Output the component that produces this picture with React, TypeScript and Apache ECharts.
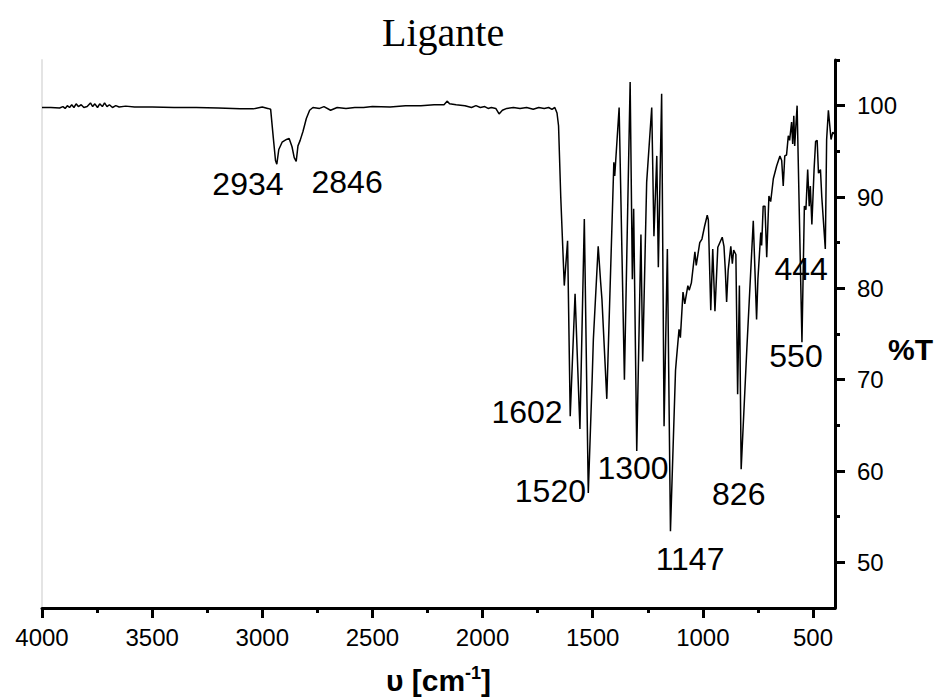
import React, { useEffect, useRef } from "react";
import * as echarts from "echarts";

// IR spectrum (wavenumber in cm-1, transmittance in %T)
const wavenumbers = [
  4000, 3960, 3920, 3905, 3895, 3885, 3875, 3865, 3855, 3845, 3835, 3822, 3810, 3795, 3780, 3770, 3760, 3748,
  3738, 3726, 3716, 3705, 3694, 3680, 3665, 3650, 3620, 3580, 3500, 3400, 3300, 3200, 3100, 3040, 3000, 2975,
  2962, 2950, 2940, 2934, 2925, 2910, 2890, 2878, 2865, 2855, 2846, 2838, 2828, 2815, 2800, 2785, 2770, 2740,
  2720, 2690, 2660, 2620, 2580, 2540, 2500, 2420, 2350, 2280, 2220, 2175, 2160, 2150, 2120, 2080, 2050, 2030,
  2010, 1990, 1975, 1960, 1940, 1925, 1910, 1890, 1860, 1830, 1800, 1770, 1745, 1720, 1700, 1685, 1672, 1662,
  1655, 1645, 1629, 1614, 1602, 1580, 1558, 1538, 1520, 1502, 1497, 1475, 1464, 1458, 1436, 1404, 1400, 1380,
  1356, 1330, 1320, 1314, 1300, 1281, 1273, 1255, 1232, 1222, 1209, 1202, 1187, 1176, 1161, 1147, 1124, 1120,
  1108, 1102, 1090, 1082, 1068, 1062, 1052, 1036, 1030, 1014, 1004, 992, 980, 975, 964, 955, 945, 932,
  912, 904, 898, 892, 885, 873, 866, 860, 850, 842, 834, 826, 800, 771, 756, 750, 737, 733,
  726, 718, 710, 700, 692, 680, 665, 650, 642, 635, 628, 620, 612, 606, 597, 592, 587, 583,
  572, 550, 545, 539, 532, 524, 517, 512, 505, 495, 488, 481, 475, 466, 460, 444, 438, 430,
  418, 410, 400,
];
const transmittance = [
  99.8, 99.8, 99.75, 99.9, 99.7, 100.0, 99.8, 100.1, 99.8, 100.2, 99.9, 100.1, 99.8, 99.9, 100.3, 99.9, 100.2, 99.8,
  100.2, 99.9, 100.3, 99.9, 100.1, 99.8, 100.0, 99.85, 99.95, 99.85, 99.85, 99.8, 99.8, 99.75, 99.65, 99.65, 99.85, 99.7,
  99.6, 96.5, 94.0, 93.6, 95.2, 96.0, 96.3, 96.4, 95.5, 94.3, 93.9, 95.6, 96.2, 97.2, 98.6, 99.5, 99.8, 99.7,
  99.9, 99.5, 99.8, 99.7, 99.8, 99.8, 99.9, 99.85, 100.0, 100.0, 100.1, 100.1, 100.5, 100.2, 100.1, 100.0, 99.8, 100.0,
  99.8, 99.9, 99.7, 99.8, 99.7, 99.1, 99.5, 99.7, 99.8, 99.7, 99.8, 99.6, 99.8, 99.7, 99.8, 99.6, 99.8, 99.2,
  97.8, 90.0, 80.3, 85.2, 66.0, 79.4, 64.6, 87.6, 57.6, 70.4, 74.4, 84.6, 80.7, 78.8, 67.9, 93.8, 92.3, 99.8,
  70.0, 102.6, 81.0, 88.7, 62.2, 85.9, 72.0, 91.6, 99.8, 85.7, 94.5, 82.3, 101.3, 64.9, 84.3, 53.4, 71.0, 72.2,
  75.5, 74.6, 79.6, 78.3, 80.3, 79.8, 80.6, 84.0, 82.5, 85.0, 85.4, 86.8, 88.0, 87.5, 77.6, 84.3, 77.5, 84.5,
  85.6, 84.6, 82.0, 78.5, 82.0, 84.6, 82.7, 84.2, 83.7, 68.4, 80.3, 60.2, 73.5, 87.4, 76.6, 81.0, 86.1, 84.7,
  89.0, 89.0, 83.4, 90.1, 89.5, 92.0, 93.4, 94.5, 94.0, 91.2, 94.5, 94.6, 96.7, 96.2, 98.2, 95.8, 98.9, 95.6,
  100.0, 74.1, 81.0, 89.0, 88.6, 93.0, 89.0, 91.2, 87.0, 93.0, 96.1, 96.2, 92.6, 93.0, 90.0, 84.3, 96.3, 99.5,
  96.3, 97.1, 96.8,
];

// Peak annotations: text and where its centre sits (in data units)
const peakTexts = ["2934", "2846", "1602", "1520", "1300", "1147", "826", "550", "444"];
const peakTextX = [3065, 2615, 1798, 1692, 1317, 1058, 837, 577, 554];
const peakTextY = [91.4, 91.6, 66.5, 57.8, 60.3, 50.4, 57.5, 72.6, 82.1];

// Axis ticks
const xMajorTicks = [4000, 3500, 3000, 2500, 2000, 1500, 1000, 500];
const xMinorTicks = [3750, 3250, 2750, 2250, 1750, 1250, 750];
const yMajorTicks = [50, 60, 70, 80, 90, 100];
const yMinorTicks = [55, 65, 75, 85, 95, 105];

const TITLE = "Ligante";
const X_MIN = 400;
const X_MAX = 4000;
const Y_MIN = 45;
const Y_MAX = 105;

const SANS = "Liberation Sans, Arial, sans-serif";

export default function App() {
  const ref = useRef<HTMLDivElement>(null);

  useEffect(() => {
    if (!ref.current) return;
    const chart = echarts.init(ref.current, undefined, { renderer: "svg" });

    const spectrum = wavenumbers.map((w, i) => [w, transmittance[i]]);
    const notes = peakTexts.map((t, i) => ({ value: [peakTextX[i], peakTextY[i]], name: t }));

    const option: any = {
      animation: false,
      backgroundColor: "#ffffff",
      title: {
        text: TITLE,
        left: 382,
        top: 12,
        padding: 0,
        textStyle: {
          fontFamily: "Liberation Serif, Times New Roman, serif",
          fontSize: 40,
          fontWeight: "normal",
          color: "#000",
        },
      },
      grid: { left: 42, right: 108, top: 60, bottom: 89, containLabel: false, outerBoundsMode: "none" },
      xAxis: [
        {
          type: "value",
          min: X_MIN,
          max: X_MAX,
          inverse: true,
          position: "bottom",
          name: "{a|υ [cm}{s|-1}{a|]}",
          nameLocation: "middle",
          nameGap: 56,
          nameMoveOverlap: false,
          nameTextStyle: {
            rich: {
              a: { fontFamily: SANS, fontSize: 30, fontWeight: "bold", color: "#000", lineHeight: 32 },
              s: { fontFamily: SANS, fontSize: 18, fontWeight: "bold", color: "#000", verticalAlign: "top", lineHeight: 18 },
            },
          },
          axisLine: { show: true, onZero: false, lineStyle: { color: "#000", width: 3 } },
          axisTick: { show: true, length: 10, lineStyle: { color: "#000", width: 3 }, customValues: xMajorTicks },
          axisLabel: {
            show: true,
            customValues: xMajorTicks,
            formatter: (v: number) => String(v),
            margin: 17,
            fontFamily: SANS,
            fontSize: 24,
            color: "#000",
          },
          splitLine: { show: false },
        },
        {
          type: "value",
          min: X_MIN,
          max: X_MAX,
          inverse: true,
          position: "bottom",
          offset: 0,
          axisLine: { show: false, onZero: false },
          axisTick: { show: true, length: 5, lineStyle: { color: "#000", width: 3 }, customValues: xMinorTicks },
          axisLabel: { show: false },
          splitLine: { show: false },
        },
      ],
      yAxis: [
        {
          type: "value",
          min: Y_MIN,
          max: Y_MAX,
          position: "right",
          name: "%T",
          nameLocation: "middle",
          nameRotate: 0,
          nameGap: 53,
          nameMoveOverlap: false,
          nameTextStyle: {
            fontFamily: SANS,
            fontSize: 30,
            fontWeight: "bold",
            color: "#000",
            verticalAlign: "top",
          },
          axisLine: { show: true, onZero: false, lineStyle: { color: "#000", width: 3 } },
          axisTick: { show: true, length: 10, lineStyle: { color: "#000", width: 3 }, customValues: yMajorTicks },
          axisLabel: {
            show: true,
            customValues: yMajorTicks,
            formatter: (v: number) => String(v),
            margin: 22,
            fontFamily: SANS,
            fontSize: 24,
            color: "#000",
          },
          splitLine: { show: false },
        },
        {
          type: "value",
          min: Y_MIN,
          max: Y_MAX,
          position: "right",
          offset: 0,
          axisLine: { show: false, onZero: false },
          axisTick: { show: true, length: 5, lineStyle: { color: "#000", width: 3 }, customValues: yMinorTicks },
          axisLabel: { show: false },
          splitLine: { show: false },
        },
        {
          type: "value",
          min: Y_MIN,
          max: Y_MAX,
          position: "left",
          axisLine: { show: true, onZero: false, lineStyle: { color: "#e4e4e4", width: 2 } },
          axisTick: { show: false },
          axisLabel: { show: false },
          splitLine: { show: false },
        },
      ],
      series: [
        {
          type: "line",
          xAxisIndex: 0,
          yAxisIndex: 0,
          data: spectrum,
          showSymbol: false,
          symbol: "none",
          smooth: false,
          silent: true,
          lineStyle: { color: "#000", width: 1.5 },
          z: 3,
        },
        {
          type: "scatter",
          xAxisIndex: 0,
          yAxisIndex: 0,
          data: notes,
          symbolSize: 0,
          silent: true,
          itemStyle: { color: "#000", opacity: 1 },
          label: {
            show: true,
            position: [0, 0],
            align: "center",
            verticalAlign: "middle",
            formatter: (p: any) => p.name,
            fontFamily: SANS,
            fontSize: 32,
            color: "#000",
            opacity: 1,
          },
          z: 4,
        },
      ],
    };

    chart.setOption(option);
    return () => chart.dispose();
  }, []);

  return (
    <div
      ref={ref}
      style={{ position: "fixed", left: 0, top: 0, width: 943, height: 697, background: "#fff" }}
    />
  );
}
